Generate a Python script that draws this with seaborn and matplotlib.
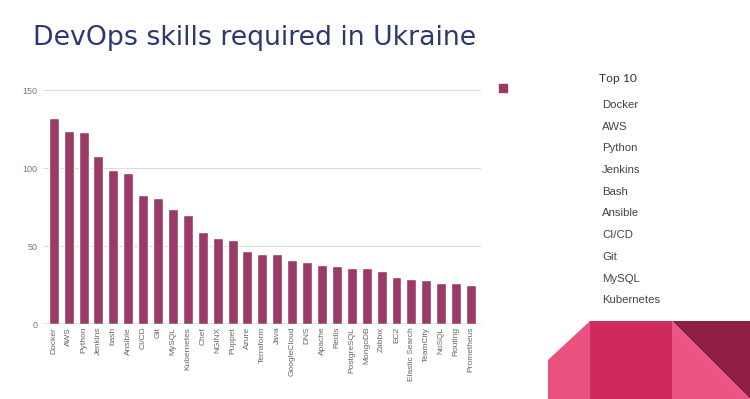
import matplotlib
matplotlib.use("Agg")
import matplotlib.pyplot as plt
import seaborn as sns
import pandas as pd
from matplotlib.patches import Polygon, Patch

# Skills and number of vacancies mentioning them
skills = ["Docker", "AWS", "Python", "Jenkins", "bash", "Ansible", "CI/CD", "Git",
          "MySQL", "Kubernetes", "Chef", "NGINX", "Puppet", "Azure", "Terraform",
          "Java", "GoogleCloud", "DNS", "Apache", "Redis", "PostgreSQL", "MongoDB",
          "Zabbix", "EC2", "Elastic Search", "TeamCity", "NoSQL", "Routing", "Prometheus"]
counts = [132, 124, 123, 108, 99, 97, 83, 81, 74, 70, 59, 55, 54, 47, 45,
          45, 41, 40, 38, 37, 36, 36, 34, 30, 29, 28, 26, 26, 25]
top10 = ["Docker", "AWS", "Python", "Jenkins", "Bash", "Ansible", "CI/CD", "Git",
         "MySQL", "Kubernetes"]
y_ticks = [0, 50, 100, 150]

bar_color = "#9b3a66"

df = pd.DataFrame({"skill": skills, "count": counts})

sns.set_theme(style="white")
plt.rcParams["font.family"] = ["Liberation Sans", "DejaVu Sans"]

fig = plt.figure(figsize=(7.5, 3.99), dpi=100)
ax = fig.add_axes([43 / 750, 75 / 399, 438 / 750, 234 / 399])

sns.barplot(data=df, x="skill", y="count", color=bar_color, saturation=1,
            width=0.67, ax=ax)

ax.set_xlim(-0.72, 28.67)
ax.set_ylim(0, 150)
ax.set_yticks(y_ticks)
ax.set_xlabel("")
ax.set_ylabel("")
ax.grid(axis="y", color="#dcdcdc", linewidth=0.8)
ax.set_axisbelow(True)
ax.axhline(0, color="#888888", linewidth=1)
for s in ax.spines.values():
    s.set_visible(False)
ax.tick_params(axis="y", labelsize=6.5, colors="#777777", length=0, pad=4)
ax.tick_params(axis="x", labelsize=6, colors="#666666", length=0, pad=2,
               labelrotation=90)

# empty series legend swatch
ax.legend(handles=[Patch(color=bar_color)], labels=[""], frameon=False,
          loc="upper left", bbox_to_anchor=(499 / 750, 1 - 84 / 399),
          bbox_transform=fig.transFigure, borderaxespad=0, borderpad=0,
          fontsize=8, handlelength=0.7, handleheight=0.7, handletextpad=0)

# title
fig.text(33 / 750, 1 - 38 / 399, "DevOps skills required in Ukraine",
         fontsize=19.3, color="#2d3770", va="center", ha="left",
         family=["DejaVu Sans"])

# top 10 list
fig.text(599 / 750, 1 - 79 / 399, "Top 10", fontsize=8.7, color="#333333",
         va="center", ha="left", family=["Lato", "DejaVu Sans"])
for i, name in enumerate(top10):
    y = 105 + i * 21.7
    fig.text(602 / 750, 1 - y / 399, name, fontsize=8.2, color="#444444",
             va="center", ha="left")

# decorative shapes bottom right
def px(pts):
    return [(x / 750, 1 - y / 399) for x, y in pts]

shapes = [
    ([(548, 360), (590, 321), (590, 399), (548, 399)], "#e9517f"),
    ([(590, 321), (672, 321), (672, 399), (590, 399)], "#cf2a5e"),
    ([(672, 321), (750, 321), (750, 399)], "#8f1e43"),
    ([(672, 321), (750, 399), (672, 399)], "#ea5583"),
]
for pts, c in shapes:
    fig.patches.append(Polygon(px(pts), closed=True, facecolor=c, edgecolor="none",
                               transform=fig.transFigure, figure=fig))

fig.savefig("out.png", dpi=100)
